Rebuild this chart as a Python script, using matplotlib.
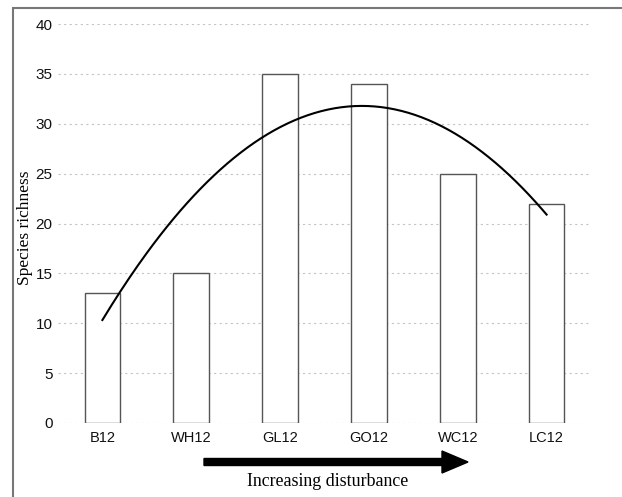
import matplotlib
matplotlib.use("Agg")
from matplotlib import pyplot as plt
from matplotlib.patches import Rectangle, FancyArrow
import numpy as np

sites = ["B12", "WH12", "GL12", "GO12", "WC12", "LC12"]
richness = [13, 15, 35, 34, 25, 22]
y_ticks = [0, 5, 10, 15, 20, 25, 30, 35, 40]

fig = plt.figure(figsize=(6.22, 4.97), dpi=100)
ax = fig.add_axes([0.0932, 0.1489, 0.857, 0.8028])

x = np.arange(len(sites))
ax.bar(x, richness, width=0.4, color="white", edgecolor="#555555", linewidth=1.0, zorder=2)

# quadratic fit drawn over the bars
coef = np.polyfit(x, richness, 2)
xs = np.linspace(0, len(sites) - 1, 200)
ax.plot(xs, np.polyval(coef, xs), color="black", linewidth=1.5, zorder=3)

ax.set_xlim(-0.5, len(sites) - 0.5)
ax.set_ylim(0, 40)
ax.set_yticks(y_ticks)
ax.set_xticks(x)
ax.set_xticklabels(sites, family="Liberation Sans", fontsize=10.5, color="#111111")
for lab in ax.get_yticklabels():
    lab.set_family("Liberation Sans")
    lab.set_fontsize(11)
    lab.set_color("#111111")
ax.tick_params(axis="y", length=0, pad=4)
ax.tick_params(axis="x", length=0, pad=6)
ax.grid(axis="y", linestyle=(0, (2, 3)), color="#c4c4c4", linewidth=0.8, zorder=0)
for s in ax.spines.values():
    s.set_visible(False)

ax.set_ylabel("Species richness", family="Liberation Serif", fontsize=12.5, va="center")
ax.yaxis.set_label_coords(-0.062, 0.49)

# arrow and caption under the axis
fig.patches.append(FancyArrow(204 / 622, 1 - 462 / 497, 238 / 622, 0,
                              width=7 / 497, head_width=22 / 497, head_length=26 / 622,
                              length_includes_head=False, color="black",
                              transform=fig.transFigure, figure=fig))
fig.text(328 / 622, 1 - 481 / 497, "Increasing disturbance", family="Liberation Serif",
         fontsize=12.9, ha="center", va="center")

# frame around the whole figure
fig.patches.append(Rectangle((13 / 622, -0.01), 0.99, 1 - 8 / 497 + 0.01, fill=False,
                             edgecolor="#777777", linewidth=1.5,
                             transform=fig.transFigure, figure=fig))

fig.savefig("out.png", dpi=100)
